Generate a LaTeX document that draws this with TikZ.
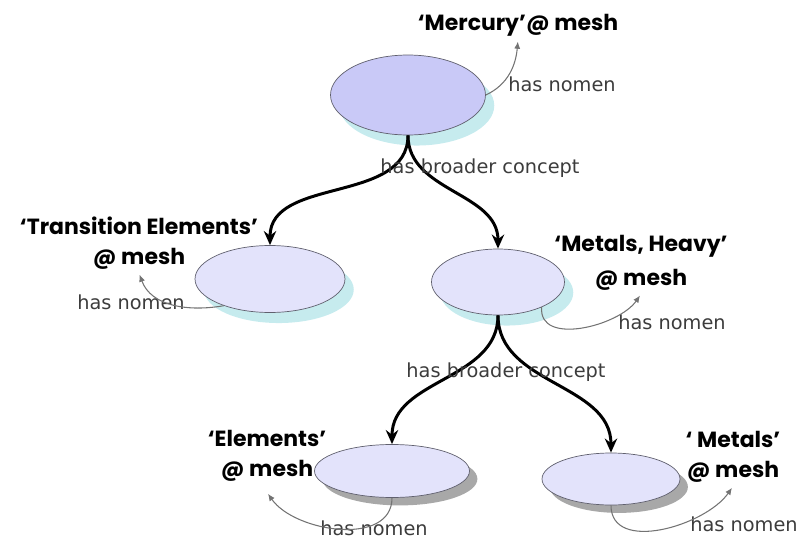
\documentclass[tikz,border=0pt]{standalone}
\usepackage{fontspec}
\setmainfont{DejaVu Sans}
\newfontfamily\namefont{Poppins}
\usepackage{xcolor}
\usetikzlibrary{arrows.meta,shapes.geometric,shadows,positioning}

\definecolor{lavender}{HTML}{C9C9F7}
\definecolor{palelav}{HTML}{E3E3FB}
\definecolor{cyanshade}{HTML}{C6EBEE}
\definecolor{greyshade}{HTML}{A8A8A8}
\definecolor{rimgrey}{HTML}{60606E}
\definecolor{relgrey}{HTML}{3C3C3C}

\begin{document}
\begin{tikzpicture}[x=0.02cm,y=0.02cm,
    concept/.style={ellipse, draw=rimgrey, thin, inner sep=0pt},
    cyanshadow/.style={drop shadow={shadow xshift=5pt, shadow yshift=-6pt, fill=cyanshade, opacity=1}},
    greyshadow/.style={drop shadow={shadow xshift=4.5pt, shadow yshift=-4.5pt, fill=greyshade, opacity=1}},
    term/.style={font=\namefont\bfseries\fontsize{12.5}{17}\selectfont, align=center, inner sep=2pt},
    rel/.style={font=\fontsize{11}{13}\selectfont, text=relgrey, inner sep=1pt},
    broader/.style={-{Stealth[length=8pt,width=7pt]}, line width=1.7pt},
    nomen/.style={-{Latex[length=4pt,width=3.5pt]}, draw=black!55, line width=0.6pt, shorten >=1pt}]
                \useasboundingbox (0,0) rectangle (796,539);
                \node[concept, fill=lavender, cyanshadow, minimum width=3.1cm, minimum height=1.6cm] (mercury) at (408,444) {};
                \node[concept, fill=palelav, cyanshadow, minimum width=3.0cm, minimum height=1.34cm] (transition) at (270,260) {};
                \node[concept, fill=palelav, cyanshadow, minimum width=2.66cm, minimum height=1.32cm] (heavy) at (498,257) {};
                \node[concept, fill=palelav, greyshadow, minimum width=3.1cm, minimum height=1.06cm] (elements) at (392,68) {};
                \node[concept, fill=palelav, greyshadow, minimum width=2.76cm, minimum height=1.04cm] (metals) at (611,60) {};
                \node[term] (mercurylbl) at (518,514) {‘Mercury’@ mesh};
                \node[term] (transitionlbl) at (139,296) {‘Transition Elements’\\@ mesh};
                \node[term] (heavylbl) at (641,276) {‘Metals, Heavy’\\[2pt]@ mesh};
                \node[term] (elementslbl) at (267,83) {‘Elements’\\@ mesh};
                \node[term] (metalslbl) at (733,82) {‘ Metals’\\@ mesh};
                \draw[broader] (mercury.south) to[out=-90,in=90] (transition.north);
                \draw[broader] (mercury.south) to[out=-90,in=90] (heavy.north);
                \draw[broader] (heavy.south) to[out=-90,in=90] (elements.north);
                \draw[broader] (heavy.south) to[out=-90,in=90] (metals.north);
                \node[rel] (broadertop) at (480,371) {has broader concept};
                \node[rel] (broaderheavy) at (506,167) {has broader concept};
                \node[rel] (mercurynomen) at (562,455) {has nomen};
                \node[rel] (transitionnomen) at (131,237) {has nomen};
                \node[rel] (heavynomen) at (672,217) {has nomen};
                \node[rel] (elementsnomen) at (374,11) {has nomen};
                \node[rel] (metalsnomen) at (744,15) {has nomen};
                \draw[nomen] (mercury.east) to[out=25,in=-95] (mercurylbl.south);
                \draw[nomen] (transition.-150) to[out=190,in=-70] (transitionlbl.south);
                \draw[nomen] (heavy.-30) to[out=-95,in=-125] (heavylbl.south);
                \draw[nomen] (elements.south) to[out=-90,in=-55] ([yshift=-4pt]elementslbl.south);
                \draw[nomen] (metals.south) to[out=-90,in=-125] (metalslbl.south);
\end{tikzpicture}
\end{document}
